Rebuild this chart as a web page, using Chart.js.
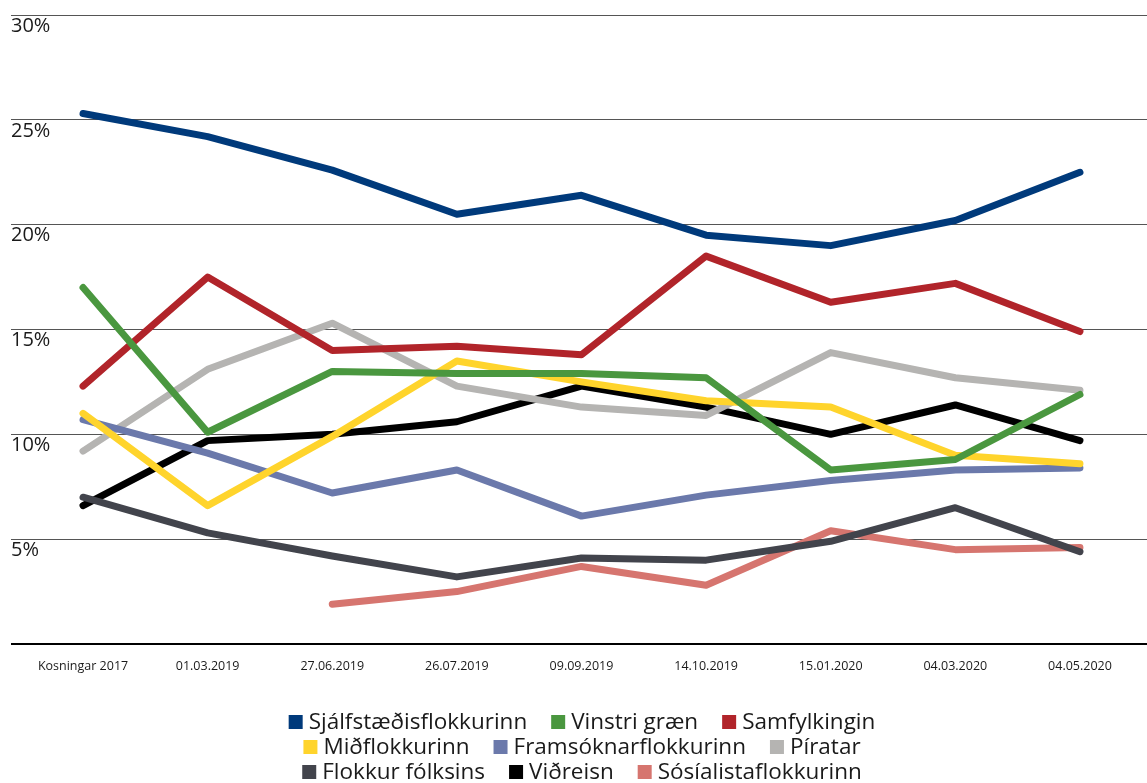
<!DOCTYPE html>
<html>
<head>
<meta charset="utf-8">
<script src="https://cdn.jsdelivr.net/npm/chart.js@4.4.1/dist/chart.umd.min.js"></script>
<style>
  html, body { margin: 0; padding: 0; background: #fff; }
  #wrap { width: 1147px; height: 783px; position: relative; }
</style>
</head>
<body>
<div id="wrap"><canvas id="pollChart"></canvas></div>
<script>
// polling data, % per party
const categories = ['Kosningar 2017', '01.03.2019', '27.06.2019', '26.07.2019', '09.09.2019', '14.10.2019', '15.01.2020', '04.03.2020', '04.05.2020'];
const parties = ['Sjálfstæðisflokkurinn', 'Vinstri græn', 'Samfylkingin', 'Miðflokkurinn', 'Framsóknarflokkurinn', 'Píratar', 'Flokkur fólksins', 'Viðreisn', 'Sósíalistaflokkurinn'];
const sjalfstaedis = [25.3, 24.2, 22.6, 20.5, 21.4, 19.5, 19.0, 20.2, 22.5];
const vinstriGraen = [17.0, 10.1, 13.0, 12.9, 12.9, 12.7, 8.3, 8.8, 11.9];
const samfylking = [12.3, 17.5, 14.0, 14.2, 13.8, 18.5, 16.3, 17.2, 14.9];
const midflokkur = [11.0, 6.6, 9.9, 13.5, 12.5, 11.6, 11.3, 9.0, 8.6];
const framsokn = [10.7, 9.1, 7.2, 8.3, 6.1, 7.1, 7.8, 8.3, 8.4];
const piratar = [9.2, 13.1, 15.3, 12.3, 11.3, 10.9, 13.9, 12.7, 12.1];
const flokkurFolksins = [7.0, 5.3, 4.2, 3.2, 4.1, 4.0, 4.9, 6.5, 4.4];
const vidreisn = [6.6, 9.7, 10.0, 10.6, 12.3, 11.3, 10.0, 11.4, 9.7];
const sosialista = [null, null, 1.9, 2.5, 3.7, 2.8, 5.4, 4.5, 4.6];
const yTicks = [0, 5, 10, 15, 20, 25, 30];

const series = [sjalfstaedis, vinstriGraen, samfylking, midflokkur, framsokn, piratar, flokkurFolksins, vidreisn, sosialista];
const colors = ['#003a7b', '#4a973f', '#b1242a', '#ffd42c', '#6b79ab', '#b5b4b2', '#42444c', '#000000', '#d6756f'];

const FONT = '"Open Sans", "Noto Sans", sans-serif';

// legend drawn by hand so it wraps into three centred rows like the original
const rowLegend = {
    id: 'rowLegend',
    afterDraw(chart) {
        const ctx = chart.ctx;
        const box = 14, gap = 6, itemGap = 24, maxRow = 660, centerX = 582;
        const rowY = [722, 747, 772];
        ctx.save();
        ctx.font = '22.5px ' + FONT;
        ctx.textBaseline = 'middle';
        ctx.textAlign = 'left';
        const items = chart.data.datasets.map(ds => ({
            label: ds.label,
            color: ds.borderColor,
            w: box + gap + ctx.measureText(ds.label).width
        }));
        const rows = [];
        let cur = [], curW = 0;
        items.forEach(it => {
            const add = cur.length ? itemGap + it.w : it.w;
            if (cur.length && curW + add > maxRow) {
                rows.push({ items: cur, w: curW });
                cur = [it]; curW = it.w;
            } else {
                cur.push(it); curW += add;
            }
        });
        if (cur.length) rows.push({ items: cur, w: curW });
        rows.forEach((row, r) => {
            let x = centerX - row.w / 2;
            const y = rowY[r] !== undefined ? rowY[r] : rowY[rowY.length - 1] + 25 * (r - rowY.length + 1);
            row.items.forEach(it => {
                ctx.fillStyle = it.color;
                ctx.fillRect(x, y - box / 2, box, box);
                ctx.fillStyle = '#1a1a1a';
                ctx.fillText(it.label, x + box + gap, y + 1);
                x += it.w + itemGap;
            });
        });
        ctx.restore();
    }
};

const canvas = document.getElementById('pollChart');
const chart = new Chart(canvas.getContext('2d'), {
    type: 'line',
    data: {
        datasets: parties.map((name, i) => ({
            label: name,
            data: series[i].map((v, j) => ({ x: j, y: v })),
            borderColor: colors[i],
            backgroundColor: colors[i],
            borderWidth: 7,
            borderCapStyle: 'round',
            borderJoinStyle: 'round',
            pointRadius: 0,
            tension: 0,
            spanGaps: false
        }))
    },
    options: {
        responsive: true,
        maintainAspectRatio: false,
        animation: false,
        layout: { padding: { top: 15, left: 11, right: 0, bottom: 0 } },
        scales: {
            x: {
                type: 'linear',
                min: -0.578,
                max: 8.538,
                grid: { display: false, drawTicks: false },
                border: { display: false },
                afterBuildTicks: scale => { scale.ticks = categories.map((c, i) => ({ value: i })); },
                afterFit: scale => { scale.height = 139; },
                ticks: {
                    autoSkip: false,
                    maxRotation: 0,
                    padding: 15,
                    color: '#1a1a1a',
                    font: { family: FONT, size: 12.5 },
                    callback: v => categories[v] || ''
                }
            },
            y: {
                min: 0,
                max: 30,
                afterBuildTicks: scale => { scale.ticks = yTicks.map(v => ({ value: v })); },
                grid: {
                    drawTicks: false,
                    color: c => c.tick && c.tick.value === 0 ? '#000' : '#555',
                    lineWidth: c => c.tick && c.tick.value === 0 ? 2 : 1
                },
                border: { display: false },
                ticks: {
                    mirror: true,
                    padding: 0,
                    labelOffset: 11,
                    color: '#1a1a1a',
                    font: { family: FONT, size: 20 },
                    callback: v => v === 0 ? '' : v + '%'
                }
            }
        },
        plugins: {
            legend: { display: false },
            tooltip: { enabled: false }
        }
    },
    plugins: [rowLegend]
});
</script>
</body>
</html>
